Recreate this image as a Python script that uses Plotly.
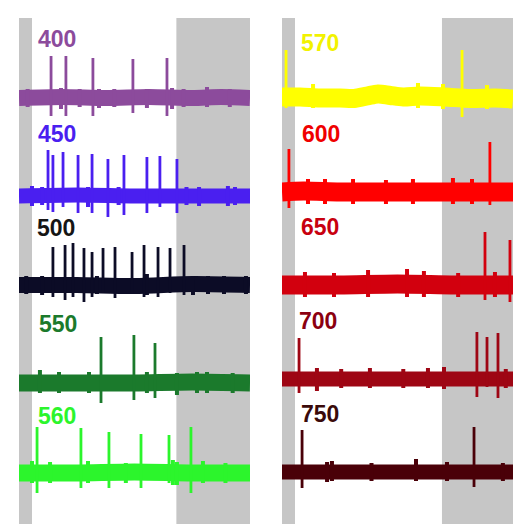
import plotly.graph_objects as go

W, H = 515, 524

# ---------------- data ----------------
# time in s, amplitude in arbitrary units relative to each trace baseline
stim_left = (0.9, 10.9)      # light ON window (white), left column
stim_right = (0.9, 11.08)    # light ON window (white), right column
rec_len = 16.0

wl_left = [400, 450, 500, 550, 560]
wl_right = [570, 600, 650, 700, 750]

# large spikes: (time, peak up, peak down)
spikes_400 = [(2.22, 42, -18), (3.25, 42, -18), (5.12, 40, -18), (7.89, 39, -15), (10.25, 40, -18)]
spikes_450 = [(2.01, 46, -14), (2.35, 41, -16), (3.05, 44, -11), (4.09, 41, -17), (5.06, 42, -17),
              (6.16, 37, -21), (7.27, 41, -19), (8.86, 39, -17), (9.76, 40, -11), (10.94, 37, -17)]
spikes_500 = [(2.35, 38, -12), (3.19, 40, -15), (3.74, 42, -12), (4.50, 37, -17), (5.06, 33, -12),
              (5.82, 37, -8), (6.65, 38, -13), (7.83, 33, -8), (8.66, 40, -12), (9.63, 38, -12),
              (10.46, 37, -8), (11.43, 40, -10)]
spikes_550 = [(5.68, 46, -20), (7.96, 48, -17), (9.42, 40, -15)]
spikes_560 = [(1.25, 46, -20), (4.29, 45, -15), (6.23, 41, -15), (8.45, 39, -15), (10.39, 38, -10),
              (11.91, 46, -20)]
spikes_570 = [(0.28, 47, -11), (12.47, 47, -20)]
spikes_600 = [(0.48, 43, -16), (14.40, 50, -13)]
spikes_650 = [(14.06, 53, -15), (15.79, 45, -17)]
spikes_700 = [(1.18, 41, -14), (13.50, 47, -18), (14.20, 42, -8), (14.96, 46, -19)]
spikes_750 = [(1.39, 42, -16), (13.30, 45, -15)]

# small noise transients: (time, up, down)
noise_400 = [(0.6, 9, -9), (2.91, 10, -11), (4.2, 9, -9), (5.54, 9, -10), (6.6, 9, -9), (8.86, 9, -10),
             (10.60, 10, -11), (11.4, 9, -9), (13.02, 11, -9), (14.6, 9, -9)]
noise_450 = [(0.90, 10, -10), (1.6, 9, -9), (4.78, 9, -11), (6.9, 9, -9), (11.6, 9, -9),
             (12.47, 9, -10), (14.47, 10, -10), (14.96, 9, -9)]
noise_500 = [(0.5, 9, -9), (1.6, 9, -10), (5.4, 9, -9), (8.86, 11, -10), (12.05, 9, -10),
             (13.09, 9, -9), (14.2, 9, -9), (15.72, 9, -9)]
noise_550 = [(1.45, 13, -10), (2.77, 11, -10), (4.85, 11, -10), (8.86, 11, -10), (10.94, 10, -12),
             (12.33, 11, -10), (13.02, 11, -10), (14.8, 10, -10)]
noise_560 = [(0.90, 12, -10), (2.15, 11, -10), (4.78, 12, -10), (7.4, 10, -10), (10.66, 13, -12),
             (10.94, 11, -12), (12.74, 12, -10), (14.3, 10, -10)]
noise_570 = [(2.15, 13, -11), (9.42, 14, -11), (11.15, 13, -12), (14.2, 12, -12)]
noise_600 = [(1.8, 13, -12), (2.98, 13, -12), (4.92, 13, -12), (7.2, 12, -12), (9.07, 13, -12),
             (11.84, 14, -12), (13.16, 13, -12)]
noise_650 = [(1.59, 13, -12), (3.6, 12, -12), (5.96, 15, -12), (8.66, 16, -12), (9.83, 14, -12),
             (12.2, 12, -12), (14.75, 13, -12)]
noise_700 = [(2.42, 11, -12), (4.1, 10, -9), (6.09, 11, -9), (8.4, 10, -9), (10.11, 11, -9),
             (11.22, 12, -10), (15.5, 10, -9)]
noise_750 = [(3.12, 10, -10), (3.46, 11, -9), (6.2, 9, -9), (9.28, 13, -9), (11.43, 10, -9),
             (15.30, 9, -9)]

# slow baseline drift: (time, offset)
base_400 = [(0, 0), (3, 1), (6, 0), (9, 1), (12, 0), (14, 1), (16, 0)]
base_450 = [(0, 0), (4, 1), (8, 0), (12, 0), (16, 0)]
base_500 = [(0, 0), (4, 0), (8, -1), (12, 1), (16, 0)]
base_550 = [(0, 0), (4, 0), (8, 0), (12, 1), (16, 0)]
base_560 = [(0, 0), (4, 0), (8, 1), (12, 0), (16, 0)]
base_570 = [(0, 0), (1.25, 0), (2.63, -1), (4.02, -1), (5.0, -1.5), (5.9, 1), (6.65, 3), (7.5, 1.5),
            (8.4, 0), (9.56, 1), (11.29, 0), (13.02, -1.5), (14.75, -1), (16, -2)]
base_600 = [(0, 0), (1.5, 1), (4, 0), (8, 0), (12, 0), (16, 0)]
base_650 = [(0, 0), (4, 0), (8, 1), (12, 0), (16, 0)]
base_700 = [(0, 0), (4, 0), (8, 0), (12, 0), (16, 0)]
base_750 = [(0, 0), (4, 0), (8, 0), (12, 0), (16, 0)]

records = {
    400: (spikes_400, noise_400, base_400), 450: (spikes_450, noise_450, base_450),
    500: (spikes_500, noise_500, base_500), 550: (spikes_550, noise_550, base_550),
    560: (spikes_560, noise_560, base_560), 570: (spikes_570, noise_570, base_570),
    600: (spikes_600, noise_600, base_600), 650: (spikes_650, noise_650, base_650),
    700: (spikes_700, noise_700, base_700), 750: (spikes_750, noise_750, base_750),
}

# ---------------- styles / layout ----------------
trace_color = {400: "#8c4b9c", 450: "#4a1ff0", 500: "#0c0c26", 550: "#1b7a2c", 560: "#2cf52c",
               570: "#ffff00", 600: "#ff0000", 650: "#d2000e", 700: "#9e0614", 750: "#4a0008"}
label_color = {400: "#8c4b9c", 450: "#4a1ff0", 500: "#151515", 550: "#1b7a2c", 560: "#2cf52c",
               570: "#f2f200", 600: "#f00000", 650: "#c8000f", 700: "#8b0010", 750: "#3a0a0a"}
band_width = {400: 16, 450: 15, 500: 16, 550: 17, 560: 17, 570: 19, 600: 19, 650: 19, 700: 15, 750: 15}
base_px_left = [98, 196, 285, 383, 473]
base_px_right = [97, 192, 285, 379, 472]
label_pos_left = [(38, 39), (38, 134), (37, 228), (39, 324), (38, 416)]
label_pos_right = [(301, 43), (302, 134), (301, 227), (299, 321), (301, 414)]
col_px = {"left": (19, 250), "right": (282, 513)}
Y_UP, Y_DN = 60, 34
GRAY = "#c6c6c6"
TOP_PX = 18

fig = go.Figure()
layout = dict(width=W, height=H, margin=dict(l=0, r=0, t=0, b=0),
              paper_bgcolor="white", plot_bgcolor="rgba(0,0,0,0)", showlegend=False)

layout["xaxis"] = dict(domain=[col_px["left"][0] / W, col_px["left"][1] / W], range=[0, rec_len],
                       visible=False, fixedrange=True)
layout["xaxis2"] = dict(domain=[col_px["right"][0] / W, col_px["right"][1] / W], range=[0, rec_len],
                        visible=False, fixedrange=True)

annotations = []
ax_i = 0
for col, wls, bases, lpos, xname in [("left", wl_left, base_px_left, label_pos_left, "x"),
                                     ("right", wl_right, base_px_right, label_pos_right, "x2")]:
    for wl, bpx, (lx, ly) in zip(wls, bases, lpos):
        ax_i += 1
        yname = "y" if ax_i == 1 else f"y{ax_i}"
        ykey = "yaxis" if ax_i == 1 else f"yaxis{ax_i}"
        top = bpx - Y_UP
        bot = bpx + Y_DN
        layout[ykey] = dict(domain=[1 - bot / H, 1 - top / H], range=[-Y_DN, Y_UP],
                            visible=False, fixedrange=True)
        spikes, noise, base = records[wl]
        c = trace_color[wl]
        # noise band
        fig.add_trace(go.Scatter(x=[p[0] for p in base], y=[p[1] for p in base], mode="lines",
                                 line=dict(color=c, width=band_width[wl], shape="spline", smoothing=0.8),
                                 xaxis=xname, yaxis=yname, hoverinfo="skip"))
        # small transients
        nx, ny = [], []
        for t, u, d in noise:
            nx += [t, t, None]
            ny += [d, u, None]
        fig.add_trace(go.Scatter(x=nx, y=ny, mode="lines", line=dict(color=c, width=4),
                                 xaxis=xname, yaxis=yname, hoverinfo="skip"))
        # action potentials
        sx, sy = [], []
        for t, u, d in spikes:
            sx += [t, t, None]
            sy += [d, u, None]
        fig.add_trace(go.Scatter(x=sx, y=sy, mode="lines", line=dict(color=c, width=2.8),
                                 xaxis=xname, yaxis=yname, hoverinfo="skip"))
        annotations.append(dict(text=f"<b>{wl}</b>", x=(lx - 2) / W, y=1 - ly / H, xref="paper",
                                yref="paper", xanchor="left", yanchor="middle", showarrow=False,
                                font=dict(family="Liberation Sans, Arial, sans-serif", size=23,
                                          color=label_color[wl])))

shapes = []
for xref, (s0, s1) in [("x", stim_left), ("x2", stim_right)]:
    for a, b in [(0, s0), (s1, rec_len)]:
        shapes.append(dict(type="rect", xref=xref, yref="paper", x0=a, x1=b, y0=0, y1=1 - TOP_PX / H,
                           fillcolor=GRAY, line=dict(width=0), layer="below"))

layout["annotations"] = annotations
layout["shapes"] = shapes
fig.update_layout(**layout)
fig.write_html("out.html", config={"displayModeBar": False},
               post_script="document.body.style.margin='0px';document.body.style.overflow='hidden';")
